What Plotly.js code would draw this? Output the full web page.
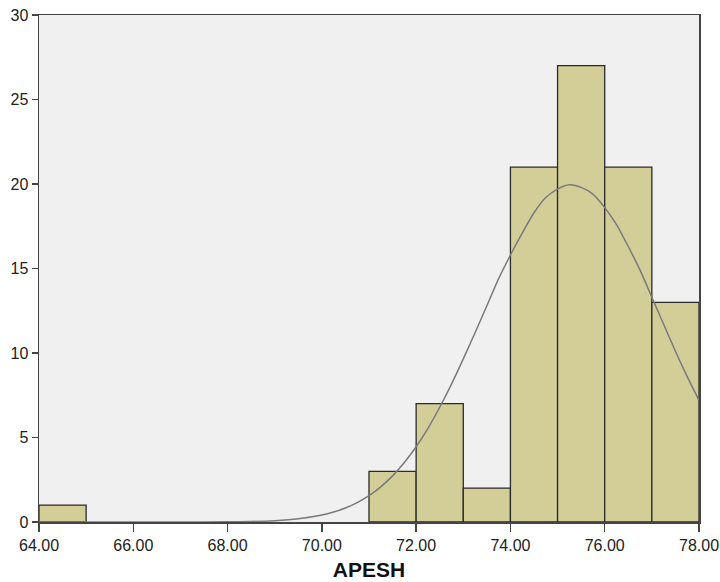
<!DOCTYPE html>
<html>
<head>
<meta charset="utf-8">
<script src="https://cdn.plot.ly/plotly-3.0.1.min.js"></script>
<style>html,body{margin:0;padding:0;background:#fff;}#chart{width:720px;height:582px;}</style>
</head>
<body>
<div id="chart"></div>
<script>
// Histogram bins (start of each bin, width 1) and counts
var binStarts = [64, 71, 72, 73, 74, 75, 76, 77];
var counts = [1, 3, 7, 2, 21, 27, 21, 13];
// Normal curve points
var curveX = [64, 66, 67, 68, 68.5, 69, 69.5, 70, 70.25, 70.5, 70.75, 71, 71.25, 71.5, 71.75, 72, 72.25, 72.5, 72.75, 73, 73.25, 73.5, 73.75, 74, 74.25, 74.5, 74.75, 75, 75.25, 75.5, 75.75, 76, 76.25, 76.5, 76.75, 77, 77.25, 77.5, 77.75, 78];
var curveY = [0, 0, 0, 0.01, 0.03, 0.08, 0.19, 0.41, 0.59, 0.83, 1.15, 1.56, 2.08, 2.73, 3.52, 4.45, 5.54, 6.79, 8.16, 9.65, 11.2, 12.8, 14.4, 15.8, 17.1, 18.3, 19.2, 19.7, 19.95, 19.8, 19.4, 18.6, 17.6, 16.3, 14.9, 13.3, 11.7, 10.1, 8.6, 7.2];
var xTicks = [64, 66, 68, 70, 72, 74, 76, 78];
var xTickText = ["64.00", "66.00", "68.00", "70.00", "72.00", "74.00", "76.00", "78.00"];
var yTicks = [0, 5, 10, 15, 20, 25, 30];

var traces = [
  {
    type: 'bar', x: binStarts, y: counts, width: 1, offset: 0,
    marker: {color: '#d3ce97', line: {color: '#2b2b2b', width: 1.3}},
    hoverinfo: 'x+y'
  },
  {
    type: 'scatter', mode: 'lines', x: curveX, y: curveY,
    line: {color: '#7a7a7a', width: 1.5, shape: 'spline', smoothing: 0.6},
    hoverinfo: 'skip'
  }
];

var layout = {
  width: 720, height: 582,
  margin: {l: 39, r: 21, t: 15, b: 60},
  paper_bgcolor: '#ffffff', plot_bgcolor: '#f0f0f0',
  showlegend: false,
  font: {family: 'Liberation Sans, Arial, sans-serif', size: 16, color: '#222'},
  bargap: 0,
  xaxis: {
    range: [64, 78], tickvals: xTicks, ticktext: xTickText,
    showgrid: false, zeroline: false,
    showline: true, mirror: true, linecolor: '#444', linewidth: 1.5,
    ticks: 'outside', ticklen: 8, tickwidth: 1.5, tickcolor: '#444',
    tickfont: {size: 16, color: '#222'},
    title: {text: 'APESH', font: {size: 21, color: '#111', weight: 'bold'}, standoff: 9}
  },
  yaxis: {
    range: [0, 30], tickvals: yTicks,
    showgrid: false, zeroline: false,
    showline: true, mirror: true, linecolor: '#444', linewidth: 1.5,
    ticks: 'outside', ticklen: 6, tickwidth: 1.5, tickcolor: '#444',
    tickfont: {size: 16, color: '#222'}
  }
};

Plotly.newPlot('chart', traces, layout, {displayModeBar: false, staticPlot: true});
</script>
</body>
</html>
